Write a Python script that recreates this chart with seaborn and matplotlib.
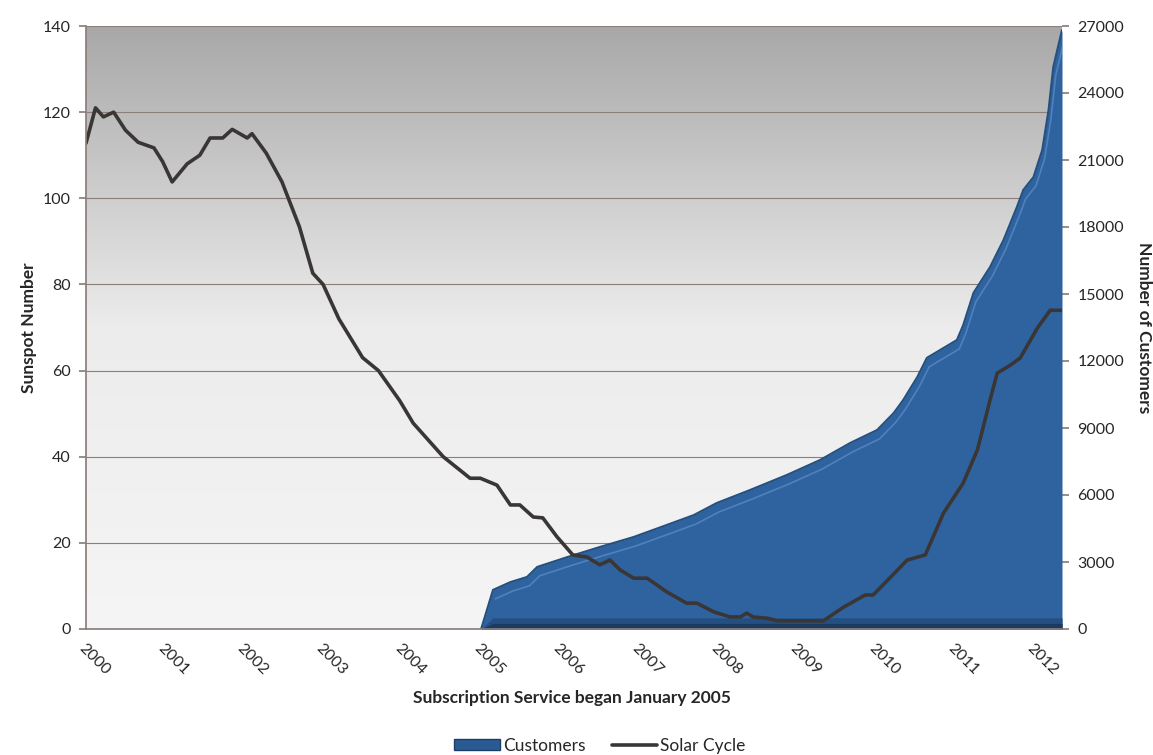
import numpy as np
import pandas as pd
import matplotlib
matplotlib.use("Agg")
import matplotlib.pyplot as plt
import seaborn as sns
from matplotlib.patches import Patch
from matplotlib.lines import Line2D

# Solar cycle (smoothed sunspot number)
solar_year = [2000.00, 2000.12, 2000.22, 2000.35, 2000.50, 2000.66, 2000.86, 2000.97,
              2001.09, 2001.28, 2001.44, 2001.57, 2001.73, 2001.85, 2002.04, 2002.10,
              2002.28, 2002.48, 2002.70, 2002.87, 2003.00, 2003.20, 2003.50, 2003.70,
              2003.97, 2004.14, 2004.52, 2004.86, 2004.99, 2005.20, 2005.37, 2005.49,
              2005.66, 2005.78, 2005.96, 2006.16, 2006.34, 2006.50, 2006.63, 2006.76,
              2006.93, 2007.10, 2007.35, 2007.60, 2007.73, 2007.94, 2008.15, 2008.28,
              2008.36, 2008.44, 2008.62, 2008.75, 2009.33, 2009.58, 2009.86, 2009.96,
              2010.18, 2010.39, 2010.62, 2010.85, 2011.10, 2011.28, 2011.44, 2011.53,
              2011.70, 2011.82, 2012.04, 2012.20, 2012.35]
solar_value = [112.8, 121.0, 118.9, 120.0, 115.8, 113.0, 111.7, 108.5,
               103.8, 108.0, 110.0, 114.0, 114.0, 116.0, 114.0, 115.0,
               110.5, 103.8, 93.4, 82.6, 80.0, 72.0, 63.0, 60.0,
               53.0, 47.8, 40.0, 35.0, 35.0, 33.4, 28.8, 28.8,
               26.0, 25.8, 21.4, 17.2, 16.7, 14.9, 16.0, 13.7,
               11.8, 11.8, 8.6, 6.0, 6.0, 4.0, 2.8, 2.8,
               3.7, 2.8, 2.5, 1.9, 1.9, 5.0, 7.9, 7.9,
               12.0, 16.0, 17.2, 26.9, 33.9, 41.6, 53.2, 59.4,
               61.3, 62.9, 69.9, 74.0, 74.0]

# Subscription customers
cust_year = [2005.00, 2005.15, 2005.37, 2005.58, 2005.71, 2006.09, 2006.50, 2006.93,
             2007.35, 2007.69, 2007.98, 2008.40, 2008.87, 2009.29, 2009.67, 2010.01,
             2010.22, 2010.34, 2010.52, 2010.64, 2011.02, 2011.10, 2011.23, 2011.44,
             2011.61, 2011.78, 2011.86, 2011.99, 2012.10, 2012.18, 2012.24, 2012.35]
cust_value = [0, 1750, 2100, 2330, 2780, 3220, 3670, 4120,
              4660, 5100, 5640, 6220, 6900, 7570, 8330, 8910,
              9670, 10250, 11290, 12140, 12940, 13610, 15050, 16210,
              17420, 18900, 19660, 20240, 21450, 23240, 25170, 26820]

year_ticks = list(range(2000, 2013))
sunspot_ticks = list(range(0, 141, 20))
customer_ticks = list(range(0, 27001, 3000))

solar = pd.DataFrame({"year": solar_year, "sunspots": solar_value})
cust = pd.DataFrame({"year": cust_year, "customers": cust_value})

sns.set_theme(style="white")
plt.rcParams["font.family"] = ["Lato", "DejaVu Sans"]

XMAX = 2012.35
fig = plt.figure(figsize=(11.53, 7.55), dpi=100)
pos = [86 / 1153, 1 - 629 / 755, (1062 - 86) / 1153, (629 - 26) / 755]

# background axes: gradient + gridlines, below everything
bg = fig.add_axes(pos, zorder=0)
grad = np.linspace(0, 1, 256).reshape(-1, 1)
cmap = matplotlib.colors.LinearSegmentedColormap.from_list("bg", ["#f5f5f5", "#ececec", "#a8a8a8"])
bg.imshow(grad, extent=[2000, XMAX, 0, 140], origin="lower", aspect="auto", cmap=cmap)
for v in sunspot_ticks[1:]:
    bg.axhline(v, color="#8a7f7b", lw=0.8)
bg.set_xlim(2000, XMAX)
bg.set_ylim(0, 140)
bg.axis("off")

ax = fig.add_axes(pos, zorder=2)
ax2 = ax.twinx()
ax2.set_zorder(1)
ax.patch.set_visible(False)
ax2.patch.set_visible(False)

# customers area on the right axis
cx = np.array(cust_year)
cy = np.array(cust_value)
ax2.fill_between(cx, 0, cy, color="#2f63a0", lw=0, zorder=2)
ax2.plot(cx, cy, color="#24507f", lw=1.5, zorder=3)
ax2.plot(cx[1:] + 0.03, cy[1:] - 400, color="#6a9bd4", lw=1.2, alpha=0.55, zorder=3)
# darker shaded base of the area
ax2.fill_between(cx, 0, np.minimum(cy, 500), color="#244f80", lw=0, zorder=3)
ax2.fill_between(cx, 0, np.minimum(cy, 250), color="#1b3a5f", lw=0, zorder=3)

# solar cycle line
sns.lineplot(data=solar, x="year", y="sunspots", ax=ax, color="#3a3636", lw=2.6)

ax.set_xlim(2000, XMAX)
ax.set_ylim(0, 140)
ax2.set_ylim(0, 27000)
ax.set_xticks(year_ticks)
ax.set_xticklabels([str(y) for y in year_ticks], rotation=-45, ha="left", va="top",
                   rotation_mode="anchor", fontsize=11.5)
ax.set_yticks(sunspot_ticks)
ax.set_yticklabels([str(v) for v in sunspot_ticks], fontsize=11.5)
ax2.set_yticks(customer_ticks)
ax2.set_yticklabels([str(v) for v in customer_ticks], fontsize=11.5)

ax.tick_params(axis="both", direction="out", length=5, color="#8a7f7b", pad=6)
ax2.tick_params(axis="y", direction="out", length=5, color="#8a7f7b", pad=6)
ax.tick_params(axis="x", pad=4)

for a in (ax, ax2):
    for s in ("top", "right", "left", "bottom"):
        a.spines[s].set_visible(False)
ax.spines["left"].set_visible(True)
ax.spines["bottom"].set_visible(True)
ax.spines["left"].set_color("#8a7f7b")
ax.spines["bottom"].set_color("#8a7f7b")

ax.set_xlabel("")
ax.set_ylabel("Sunspot Number", fontsize=12.5, fontweight="bold", labelpad=4)
ax2.set_ylabel("Number of Customers", fontsize=12.5, fontweight="bold", rotation=-90,
               labelpad=20)
fig.text(572 / 1153, 1 - 698 / 755, "Subscription Service began January 2005",
         ha="center", va="center", fontsize=12.5, fontweight="bold")

handles = [Patch(facecolor="#2a5a92", edgecolor="#1d3f66", label="Customers"),
           Line2D([0], [0], color="#3a3636", lw=2.6, label="Solar Cycle")]
fig.legend(handles=handles, loc="center", bbox_to_anchor=(600 / 1153, 1 - 746 / 755),
           ncol=2, frameon=False, fontsize=12.5, handlelength=2.6, handleheight=0.6,
           handletextpad=0.2, columnspacing=1.5)

fig.savefig("out.png", dpi=100)
